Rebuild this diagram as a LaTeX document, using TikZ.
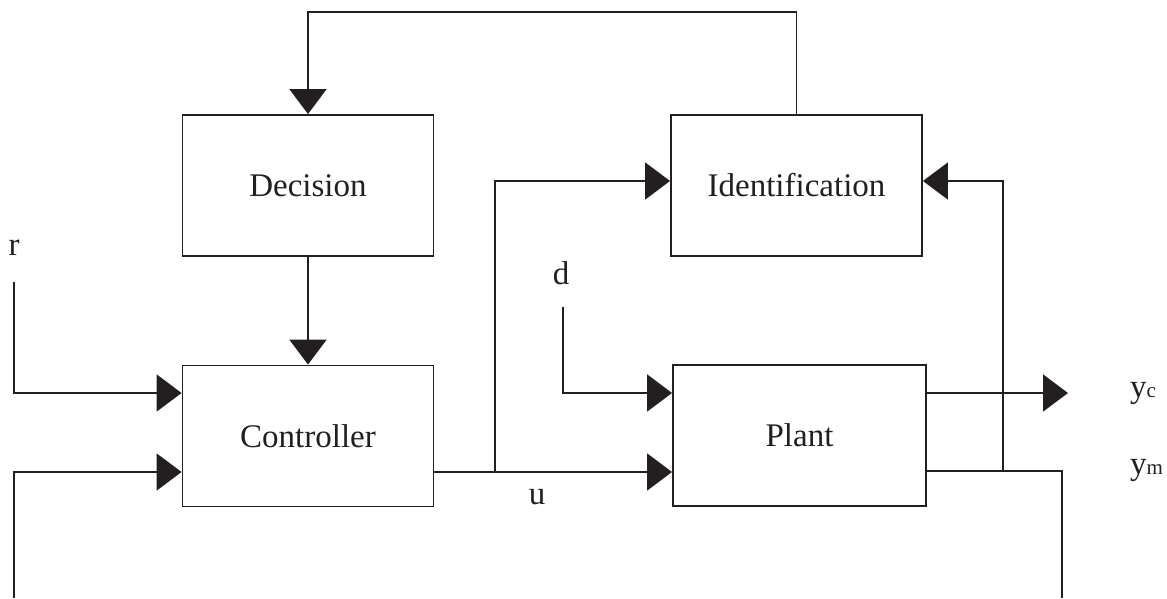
\documentclass[tikz,border=0pt]{standalone}
\usepackage{fontspec}
\setmainfont{Liberation Serif}
\usetikzlibrary{arrows.meta}
\definecolor{ink}{HTML}{231F20}
\tikzset{
  blk/.style={draw=ink, line width=1.9pt, inner sep=0pt, minimum width=251pt, minimum height=141pt, font=\fontsize{33}{40}\selectfont, text=ink},
  lbl/.style={inner sep=0pt, font=\fontsize{33}{40}\selectfont, text=ink},
  wire/.style={draw=ink, line width=1.9pt},
  arr/.style={wire, -{Triangle[length=25pt,width=37pt]}}
}
\newcommand{\smallsub}[1]{{\fontsize{21}{24}\selectfont #1}}
\begin{document}
\begin{tikzpicture}[x=1pt,y=-1pt]
\useasboundingbox (0,0) rectangle (1167,598);
% blocks
\node[blk] (dec) at (308,185.5) {Decision};
\node[blk] (idn) at (796.5,185.5) {Identification};
\node[blk] (ctl) at (308,436) {Controller};
\node[blk, minimum width=253pt] (plt) at (799.5,435.5) {Plant};
% labels
\node[lbl] (rl) at (14,248) {r};
\node[lbl] (dl) at (561,273) {d};
\node[lbl] (ul) at (537,497) {u};
\node[lbl, anchor=west] (ycl) at (1130,393) {y\smallsub{c}};
\node[lbl, anchor=west] (yml) at (1130,470) {y\smallsub{m}};
% free ends and junctions
\coordinate (top) at (550,12);
\coordinate (rs) at (14,282);
\coordinate (fb) at (14,598);
\coordinate (ds) at (563,307);
\coordinate (uj) at (495,472);
\coordinate (ycend) at (1068,393);
\coordinate (ymend) at (1062,598);
\coordinate (ymj) at (1003,471);
% connectors
\draw[arr] (idn.north) |- (top) -| (dec.north);
\draw[arr] (dec.south) -- (ctl.north);
\draw[arr] (rs) |- ([yshift=43pt]ctl.west);
\draw[arr] (fb) |- ([yshift=-36pt]ctl.west);
\draw[arr] ([yshift=-36pt]ctl.east) -- ([yshift=-36.5pt]plt.west);
\draw[arr] (uj) |- ([yshift=4.5pt]idn.west);
\draw[arr] (ds) |- ([yshift=42.5pt]plt.west);
\draw[arr] ([yshift=42.5pt]plt.east) -- (ycend);
\draw[wire] ([yshift=-35.5pt]plt.east) -| (ymend);
\draw[arr] (ymj) |- ([yshift=4.5pt]idn.east);
\end{tikzpicture}
\end{document}
